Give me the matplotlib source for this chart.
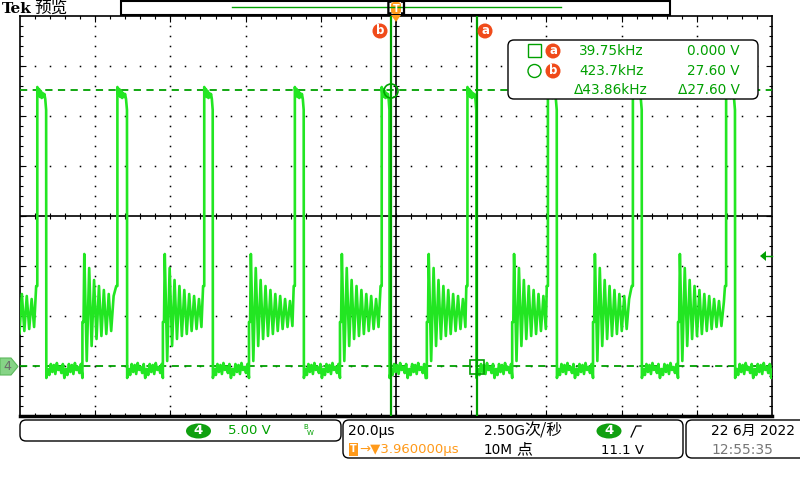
import numpy as np
import matplotlib
matplotlib.use("Agg")
import matplotlib.pyplot as plt
from matplotlib.patches import FancyBboxPatch, Rectangle, Circle, Ellipse, Polygon

plt.rcParams['font.family'] = ['DejaVu Sans', 'Noto Sans CJK SC']

# ---- waveform (time in us, volts) ----
rise_us = [-95.4, -74.1, -51.0, -26.9, -3.8, 19.0, 40.4, 63.0, 87.8]
fall_us = [-93.0, -71.5, -48.7, -24.5, -1.7, 21.4, 42.8, 65.4, 90.2]
ring_us = [-106.5, -83.4, -62.0, -39.1, -14.9, 8.2, 30.9, 52.4, 75.0]
high_v = [27.9, 27.1, 27.7, 26.9, 27.5, 26.8, 27.3, 26.9, 27.2, 26.7, 25.6]
low_v = [-1.2, -0.3, -0.9, 0.2, -0.6, 0.1, -0.8, 0.3, -0.4, -0.1, -0.7, 0.2]
ring_peak_v = [11.2, 9.8, 8.6, 8.0, 7.6, 7.2, 7.0, 6.7, 6.5, 6.4, 6.3]
ring_trough_v = [0.5, 2.0, 2.7, 3.0, 3.2, 3.5, 3.7, 3.9, 4.0, 4.1, 4.2]
ring_step_v = 4.4
pre_rise_v = 8.0
ring_half_us = 0.65
low_step_us = 0.4

cursor_a_us, cursor_b_us = 21.5, -1.3
cursor_a_v, cursor_b_v = 0.0, 27.6
trig_level_v = 11.1

TRACE = '#22e622'
CUR = '#00a000'
ORANGE = '#f04b1a'
TORANGE = '#ff9a1a'


def build_trace():
    t, v = [], []
    for i, rs in enumerate(ring_us):
        # ringing before the rise
        t += [rs, rs, rs + 0.3]
        v += [low_v[0] if i else ring_trough_v[-1], ring_step_v, ring_step_v]
        k = 0
        tk = rs + 0.5
        while tk < rise_us[i] - 0.4 and k < len(ring_peak_v):
            t.append(tk); v.append(ring_peak_v[k])
            if tk + ring_half_us < rise_us[i] - 0.4:
                t.append(tk + ring_half_us); v.append(ring_trough_v[k])
            tk += 2 * ring_half_us
            k += 1
        t += [rise_us[i] - 0.3, rise_us[i]]
        v += [pre_rise_v, pre_rise_v]
        # high part
        ht = np.linspace(rise_us[i], fall_us[i] - 0.05, len(high_v))
        t += list(ht); v += high_v
        # fall + low part
        end = ring_us[i + 1] if i + 1 < len(ring_us) else 101
        lt = np.arange(fall_us[i], end, low_step_us)
        t += list(lt)
        v += [low_v[j % len(low_v)] for j in range(len(lt))]
    return t, v


fig = plt.figure(figsize=(8, 4.8), dpi=100)
ax = fig.add_axes([20 / 800, 64 / 480, 752 / 800, 400 / 480])
ax.set_xlim(-100, 100)
ax.set_ylim(-5, 35)
ax.set_xticks([]); ax.set_yticks([])
for s in ax.spines.values():
    s.set_color('black'); s.set_linewidth(1.2)
ax.spines['bottom'].set_linewidth(2.5)

# graticule dots
dot = dict(ls='none', marker='s', ms=1.1, color='black', mew=0)
for xm in [-80, -60, -40, -20, 20, 40, 60, 80]:
    ys = np.arange(-4, 35, 1)
    ax.plot(np.full(len(ys), xm), ys, **dot)
for ym in [0, 5, 10, 20, 25, 30]:
    xs = np.arange(-96, 100, 4)
    ax.plot(xs, np.full(len(xs), ym), **dot)
# center cross with ticks
ax.axhline(15, color='black', lw=1.2)
ax.axvline(0, color='black', lw=1.2)
xs = np.arange(-96, 100, 4)
ax.plot(xs, np.full(len(xs), 15), ls='none', marker='|', ms=4, color='black', mew=0.8)
ys = np.arange(-4, 35, 1)
ax.plot(np.zeros(len(ys)), ys, ls='none', marker='_', ms=4, color='black', mew=0.8)
# border ticks
for xb in [-100, 100]:
    ax.plot(np.full(len(ys), xb), ys, ls='none', marker='_', ms=4, color='black', mew=0.8)
    ax.plot([xb] * 7, [0, 5, 10, 15, 20, 25, 30], ls='none', marker='_', ms=9, color='black', mew=0.8)
for yb in [-5, 35]:
    ax.plot(xs, np.full(len(xs), yb), ls='none', marker='|', ms=4, color='black', mew=0.8)
    ax.plot(np.arange(-80, 100, 20), [yb] * 9, ls='none', marker='|', ms=9, color='black', mew=0.8)

# trace
tt, vv = build_trace()
ax.plot(tt, vv, color=TRACE, lw=1.9, zorder=4)

# cursors
ax.axhline(cursor_b_v, color=CUR, lw=1.3, ls=(0, (4, 3)), zorder=3)
ax.axhline(cursor_a_v, color=CUR, lw=1.3, ls=(0, (4, 3)), zorder=3)
ax.axvline(cursor_a_us, color=CUR, lw=1.6, zorder=5)
ax.axvline(cursor_b_us, color=CUR, lw=1.6, zorder=5)

# ---- screen furniture in pixel coordinates ----
ui = fig.add_axes([0, 0, 1, 1], zorder=10)
ui.set_xlim(0, 800); ui.set_ylim(480, 0)
ui.axis('off')
ui.patch.set_alpha(0)

# cursor markers on the trace
ui.add_patch(Rectangle((470, 360), 14, 14, fill=False, ec=CUR, lw=1.2))
ui.add_patch(Circle((391, 91), 7, fill=False, ec=CUR, lw=1.2))

# top bar
ui.text(2, 9, 'Tek', fontsize=11, fontweight='bold', family='DejaVu Serif', va='center')
ui.text(34, 8.5, '预览', fontsize=12, family=['Noto Sans CJK SC'], va='center')
ui.add_patch(Rectangle((121, 1), 549, 14, fill=False, ec='black', lw=1.5))
ui.plot([232, 561], [7, 7], color=CUR, lw=1)
ui.text(386, 8, '[', fontsize=10, fontweight='bold', va='center')
ui.text(400, 8, ']', fontsize=10, fontweight='bold', va='center')
ui.add_patch(FancyBboxPatch((391, 2), 10, 12, boxstyle='round,pad=0,rounding_size=3', fc=TORANGE, ec='none'))
ui.text(396, 8.5, 'T', color='white', fontsize=7, fontweight='bold', ha='center', va='center')
ui.add_patch(Polygon([[391, 15], [401, 15], [396, 22]], fc=TORANGE, ec='none'))

for cx, lab in [(380, 'b'), (485, 'a')]:
    ui.add_patch(Circle((cx, 31), 7.5, fc=ORANGE, ec='none'))
    ui.text(cx, 30.5, lab, color='white', fontsize=8.5, fontweight='bold', ha='center', va='center')

# cursor readout
ui.add_patch(FancyBboxPatch((508, 40), 250, 59, boxstyle='round,pad=0,rounding_size=6', fc='white', ec='black', lw=1))
ui.add_patch(Rectangle((528, 44), 13, 13, fill=False, ec=CUR, lw=1))
ui.add_patch(Circle((534.5, 71), 6.5, fill=False, ec=CUR, lw=1))
for cy, lab in [(51, 'a'), (71, 'b')]:
    ui.add_patch(Circle((553, cy), 7.5, fc=ORANGE, ec='none'))
    ui.text(553, cy - 0.5, lab, color='white', fontsize=8.5, fontweight='bold', ha='center', va='center')
rk = dict(color=CUR, fontsize=9.8, va='center')
ui.text(579, 51, '39.75kHz', **rk)
ui.text(579, 71, '423.7kHz', **rk)
ui.text(574, 90, 'Δ43.86kHz', **rk)
ui.text(740, 51, '0.000 V', ha='right', **rk)
ui.text(740, 71, '27.60 V', ha='right', **rk)
ui.text(740, 90, 'Δ27.60 V', ha='right', **rk)

# ground and trigger markers
ui.add_patch(Polygon([[0, 358], [11, 358], [18, 366.5], [11, 375], [0, 375]], fc='#86d486', ec='#5cb85c', lw=0.8))
ui.text(7, 367, '4', color='#6a6a6a', fontsize=9, ha='center', va='center')
ui.add_patch(Polygon([[760, 256], [766, 251], [766, 261]], fc=CUR, ec='none'))
ui.plot([766, 772], [256, 256], color=CUR, lw=1)

# bottom status boxes
ui.add_patch(FancyBboxPatch((20, 420), 321, 21, boxstyle='round,pad=0,rounding_size=6', fc='white', ec='black', lw=1))
ui.add_patch(Ellipse((198.5, 431), 25, 15, fc='#10a010', ec='none'))
ui.text(198.5, 431, '4', color='white', fontsize=9.5, fontweight='bold', ha='center', va='center')
ui.text(228, 431, '5.00 V', color=CUR, fontsize=9.5, va='center')
ui.text(303, 427, 'B', color=CUR, fontsize=5, va='center')
ui.text(307, 433, 'W', color=CUR, fontsize=5, va='center')

ui.add_patch(FancyBboxPatch((343, 420), 340, 38, boxstyle='round,pad=0,rounding_size=6', fc='white', ec='black', lw=1))
ui.text(348, 431, '20.0µs', fontsize=10, va='center')
ui.add_patch(Rectangle((349, 443), 9, 13, fc=TORANGE, ec='none'))
ui.text(353.5, 449.5, 'T', color='white', fontsize=7, fontweight='bold', ha='center', va='center')
ui.text(359, 449, '→▼3.960000µs', color=TORANGE, fontsize=9.5, va='center')
ui.text(484, 431, '2.50G', fontsize=9.8, va='center')
ui.text(524, 431, '次/秒', fontsize=11.5, family=['Noto Sans CJK SC'], va='center')
ui.text(484, 450, '10M', fontsize=9.8, va='center')
ui.text(516, 450, '点', fontsize=11.5, family=['Noto Sans CJK SC'], va='center')
ui.add_patch(Ellipse((609, 431), 25, 15, fc='#10a010', ec='none'))
ui.text(609, 431, '4', color='white', fontsize=9.5, fontweight='bold', ha='center', va='center')
ui.plot([631, 636, 641], [437, 426, 426], color='black', lw=0.9)
ui.text(644, 450, '11.1 V', fontsize=9.5, ha='right', va='center')

ui.add_patch(FancyBboxPatch((686, 420), 125, 38, boxstyle='round,pad=0,rounding_size=6', fc='white', ec='black', lw=1))
ui.text(711, 431, '22 6月 2022', fontsize=10, va='center')
ui.text(711, 450, '12:55:35', color='#777777', fontsize=10, va='center')

fig.savefig('out.png', dpi=100)
